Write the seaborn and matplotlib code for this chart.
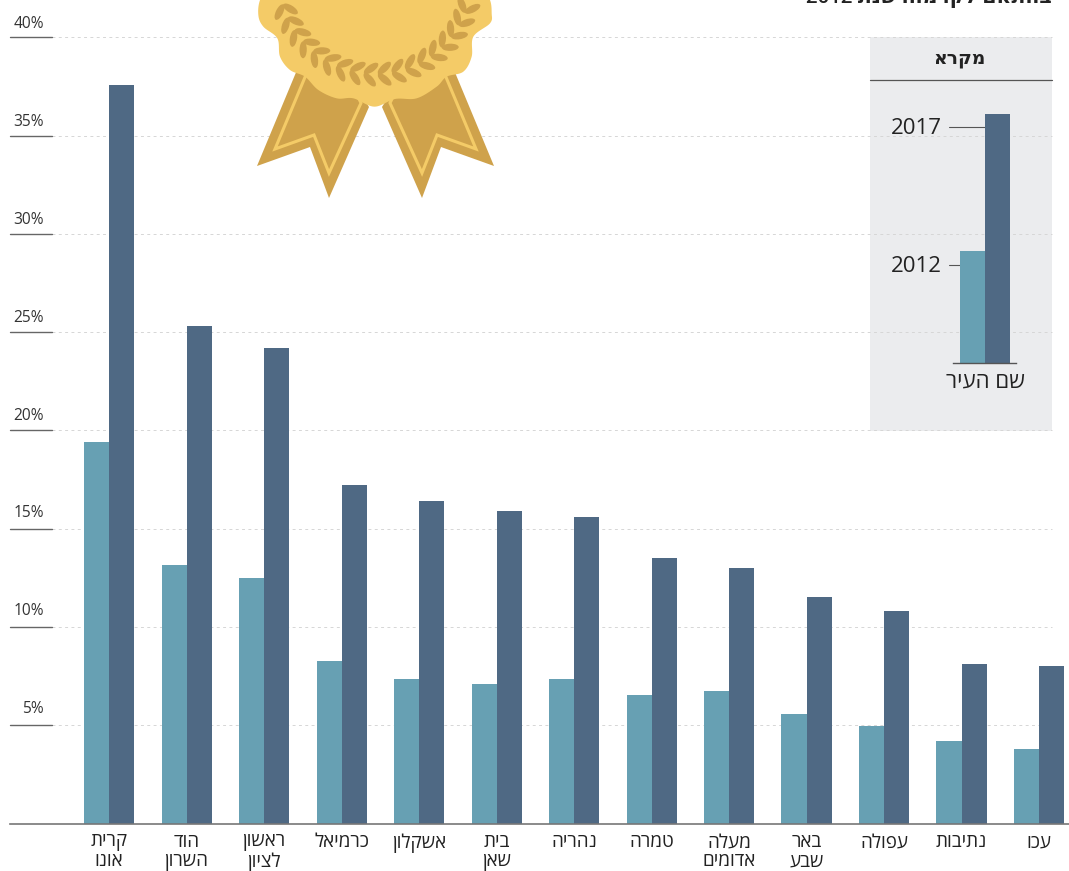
import numpy as np
import pandas as pd
import matplotlib
matplotlib.use("Agg")
import matplotlib.pyplot as plt
from matplotlib.patches import Polygon, Ellipse, Rectangle
import seaborn as sns

cities = ["קרית\nאונו", "הוד\nהשרון", "ראשון\nלציון", "כרמיאל", "אשקלון", "בית\nשאן", "נהריה",
          "טמרה", "מעלה\nאדומים", "באר\nשבע", "עפולה", "נתיבות", "עכו"]
values_2012 = [19.4, 13.15, 12.5, 8.27, 7.33, 7.1, 7.33, 6.52, 6.72, 5.58, 4.98, 4.2, 3.8]
values_2017 = [37.6, 25.3, 24.2, 17.22, 16.42, 15.92, 15.62, 13.5, 13.0, 11.52, 10.82, 8.12, 8.02]
years = ["2012", "2017"]
y_ticks = [5, 10, 15, 20, 25, 30, 35, 40]
legend_values = [5.7, 12.7]
legend_title = "מקרא"
legend_city = "שם העיר"
top_text = "בהתאם לקו מהו שנת 2012"

TEAL, NAVY = "#67A0B3", "#4F6984"
GOLD, GOLD_D = "#F4CB67", "#CFA24B"
W, H = 1069, 871


def vis(s):
    """matplotlib has no bidi layout: put each Hebrew line in visual order."""
    return "\n".join(l[::-1] for l in s.split("\n"))


def vis_mixed(s):
    parts = s.split(" ")
    return " ".join(p if p.isdigit() else p[::-1] for p in parts[::-1])


def smooth_closed(points, n=12):
    """Closed Catmull-Rom curve through the outline points."""
    p = np.asarray(points, float)
    out = []
    m = len(p)
    for i in range(m):
        p0, p1, p2, p3 = p[i - 1], p[i], p[(i + 1) % m], p[(i + 2) % m]
        for t in np.linspace(0, 1, n, endpoint=False):
            out.append(0.5 * (2 * p1 + (p2 - p0) * t + (2 * p0 - 5 * p1 + 4 * p2 - p3) * t ** 2
                              + (3 * p1 - p0 - 3 * p2 + p3) * t ** 3))
    return np.array(out)


sns.set_theme(style="white")
plt.rcParams["font.family"] = ["Open Sans", "DejaVu Sans"]
plt.rcParams["axes.unicode_minus"] = False

fig = plt.figure(figsize=(W / 100, H / 100), dpi=100, facecolor="white")


def px_axes(x0, x1, ytop, ybot, **kw):
    return fig.add_axes([x0 / W, 1 - ybot / H, (x1 - x0) / W, (ybot - ytop) / H], **kw)


# under layer: legend panel
under = px_axes(0, W, 0, H, zorder=0)
under.set_xlim(0, W); under.set_ylim(H, 0); under.axis("off")
under.add_patch(Rectangle((870, 37.5), 182, 393, fc="#EBECEE", ec="none"))

# main chart
ax = px_axes(10, W, 37.5, 823.5, zorder=1)
ax.patch.set_alpha(0)
df = pd.DataFrame({
    "city": [vis(c) for c in cities] * 2,
    "year": [years[0]] * len(cities) + [years[1]] * len(cities),
    "value": values_2012 + values_2017,
})
sns.barplot(data=df, x="city", y="value", hue="year", hue_order=years,
            palette=[TEAL, NAVY], width=50 / 77.5, saturation=1, legend=False,
            linewidth=0, ax=ax, zorder=5)
ax.set_xlim((10 - 109) / 77.5, (W - 109) / 77.5)
ax.set_ylim(0, 40)
ax.set_xlabel(""); ax.set_ylabel("")
ax.set_yticks([])
ax.tick_params(axis="x", length=0, pad=7, labelsize=13.6, labelcolor="#222222")
for lab in ax.get_xticklabels():
    lab.set_linespacing(1.08)
for s in ["top", "left", "right"]:
    ax.spines[s].set_visible(False)
ax.spines["bottom"].set_color("#777777")
ax.spines["bottom"].set_linewidth(1.2)
ax.spines["bottom"].set_zorder(6)

solid_end = (52 - 10) / (W - 10)
grid_end = (1052 - 10) / (W - 10)
tr = ax.get_yaxis_transform()
for v in y_ticks:
    ax.plot([solid_end, grid_end], [v, v], transform=tr, color="#D6D6D6", lw=0.7,
            ls=(0, (3, 3.5)), zorder=4, clip_on=False)
    ax.plot([0, solid_end], [v, v], transform=tr, color="#666666", lw=1.0, zorder=4, clip_on=False)
    off = 9.5 + (40 - v) / 35 * 2.5
    ax.annotate(f"{v}%", xy=((44 - 10) / (W - 10), v), xycoords=tr,
                xytext=(0, off), textcoords="offset pixels", ha="right", va="baseline",
                fontsize=11.2, color="#333333", annotation_clip=False)

# over layer: medal, legend furniture, cropped heading
over = px_axes(0, W, 0, H, zorder=2)
over.patch.set_alpha(0)
over.set_xlim(0, W); over.set_ylim(H, 0); over.axis("off")

CX = 375.5
left_outer = [(297, 70), (257, 166), (310, 147), (329, 198), (369, 107), (340, 60)]
left_inner = [(308, 70), (275, 149), (314, 135), (329, 173), (361, 103), (340, 60)]
for mirror in (False, True):
    f = (lambda p: (2 * CX - p[0], p[1])) if mirror else (lambda p: p)
    over.add_patch(Polygon([f(p) for p in left_outer], fc=GOLD_D, ec="none", zorder=1))
    over.add_patch(Polygon([f(p) for p in left_inner], fc=GOLD_D, ec=GOLD, lw=2.2,
                           joinstyle="miter", zorder=2))

body_zoom = [(100, -60), (62, -5), (55, 45), (70, 80), (112, 115), (120, 170), (150, 210), (195, 230),
             (235, 270), (290, 295), (340, 295), (403, 320), (465, 297), (530, 295), (590, 260),
             (620, 230), (670, 215), (695, 170), (700, 110), (750, 70), (755, 40), (748, -5),
             (710, -60), (405, -90)]
body = smooth_closed([(240 + x / 3, y / 3) for x, y in body_zoom])
over.add_patch(Polygon(body, fc=GOLD, ec="none", zorder=3))

cy = -22
for deg in np.arange(-74, 76, 8.4):
    t = np.radians(deg)
    node = np.array([CX + 96 * np.sin(t), cy + 96 * np.cos(t)])
    tangent = np.degrees(np.arctan2(-np.sin(t), np.cos(t)))
    for sign in (-1, 1):
        a = np.radians(tangent + sign * 42)
        c = node + 8.5 * np.array([np.cos(a), np.sin(a)])
        over.add_patch(Ellipse(c, 17, 7.2, angle=np.degrees(a), fc=GOLD_D, ec="none", zorder=4))

over.text(960, 59, vis(legend_title), ha="center", va="center", fontsize=13.5, fontweight="bold", color="#222222")
over.plot([870, 1052], [80.5, 80.5], color="#555555", lw=0.9)
over.text(942, 129, years[1], ha="right", va="center", fontsize=16, color="#222222")
over.text(942, 266, years[0], ha="right", va="center", fontsize=16, color="#222222")
over.plot([949, 985], [127.5, 127.5], color="#555555", lw=0.8)
over.plot([949, 960], [265.5, 265.5], color="#555555", lw=0.8)
over.text(985, 382, vis(legend_city), ha="center", va="center", fontsize=16, color="#222222")
over.text(1052, 3, vis_mixed(top_text), ha="right", va="baseline", fontsize=14.7,
          fontweight="semibold", color="#222222")

# legend's miniature bars
lg = px_axes(953, 1016, 90, 363, zorder=3)
lg.patch.set_alpha(0)
sns.barplot(x=["a", "a"], y=legend_values, hue=years, hue_order=years, palette=[TEAL, NAVY],
            width=1, saturation=1, legend=False, linewidth=0, ax=lg)
lg.set_xlim(-31.5 / 50, 31.5 / 50)
lg.set_ylim(0, 273 / 19.64)
lg.set_xticks([]); lg.set_yticks([]); lg.set_xlabel(""); lg.set_ylabel("")
for s in ["top", "left", "right"]:
    lg.spines[s].set_visible(False)
lg.spines["bottom"].set_color("#555555")
lg.spines["bottom"].set_linewidth(1.0)

fig.savefig("out.png", dpi=100)
